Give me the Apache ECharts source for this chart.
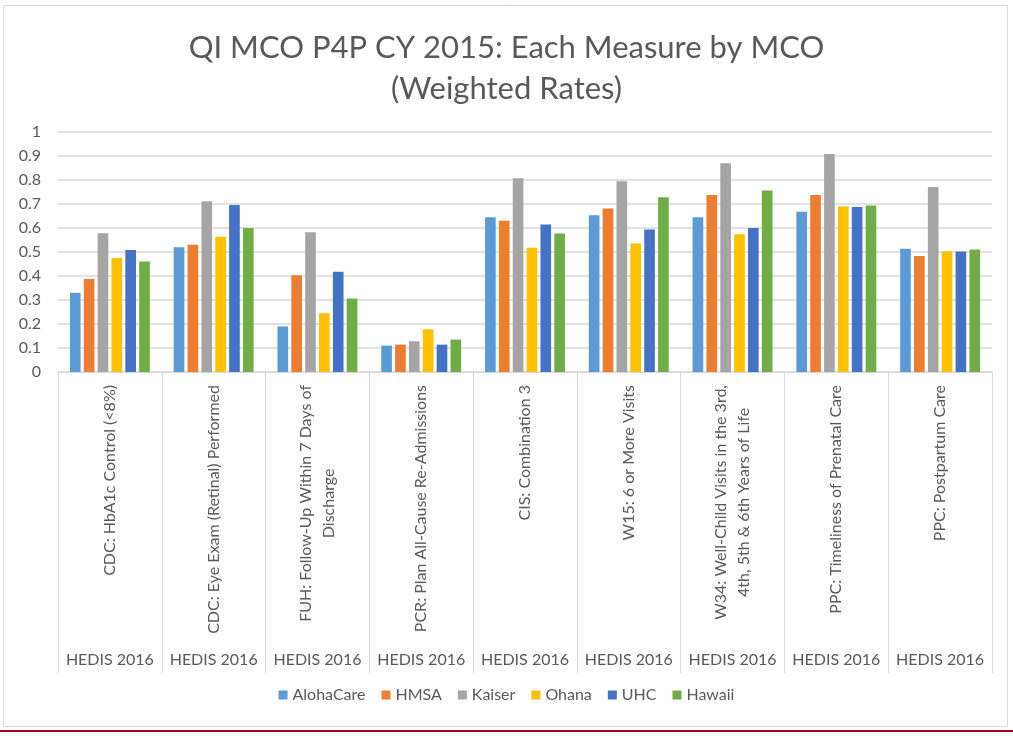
<!DOCTYPE html>
<html>
<head>
<meta charset="utf-8">
<script src="https://cdn.jsdelivr.net/npm/echarts@6/dist/echarts.min.js"></script>
<style>
  html, body { margin: 0; padding: 0; background: #fff; }
  #chart { width: 1013px; height: 740px; }
</style>
</head>
<body>
<div id="chart"></div>
<script>
// measures (wrapped the way the reference wraps them)
var measures = [
  'CDC: HbA1c Control (<8%)',
  'CDC: Eye Exam (Retinal) Performed',
  'FUH: Follow-Up Within 7 Days of\nDischarge',
  'PCR: Plan All-Cause Re-Admissions',
  'CIS: Combination 3',
  'W15: 6 or More Visits',
  'W34: Well-Child Visits in the 3rd,\n4th, 5th & 6th Years of Life',
  'PPC: Timeliness of Prenatal Care',
  'PPC: Postpartum Care'
]
var groups = ['HEDIS 2016', 'HEDIS 2016', 'HEDIS 2016', 'HEDIS 2016', 'HEDIS 2016',
  'HEDIS 2016', 'HEDIS 2016', 'HEDIS 2016', 'HEDIS 2016']

var mcoNames = ['AlohaCare', 'HMSA', 'Kaiser', 'Ohana', 'UHC', 'Hawaii']
var alohaCare = [0.33, 0.52, 0.19, 0.11, 0.645, 0.653, 0.645, 0.668, 0.514]
var hmsa = [0.387, 0.53, 0.403, 0.114, 0.63, 0.681, 0.737, 0.737, 0.483]
var kaiser = [0.578, 0.711, 0.582, 0.128, 0.807, 0.795, 0.87, 0.908, 0.771]
var ohana = [0.475, 0.564, 0.245, 0.178, 0.518, 0.535, 0.574, 0.69, 0.503]
var uhc = [0.508, 0.696, 0.418, 0.114, 0.615, 0.594, 0.6, 0.687, 0.502]
var hawaii = [0.46, 0.6, 0.306, 0.135, 0.577, 0.728, 0.756, 0.694, 0.51]

var colors = ['#5B9BD5', '#ED7D31', '#A5A5A5', '#FFC000', '#4472C4', '#70AD47']
var seriesData = [alohaCare, hmsa, kaiser, ohana, uhc, hawaii]

var textColor = '#595959'
var lineColor = '#d9d9d9'
var font = 'Lato'

var chart = echarts.init(document.getElementById('chart'))

chart.setOption({
  color: colors,
  animation: false,
  title: {
    text: 'QI MCO P4P CY 2015: Each Measure by MCO\n(Weighted Rates)',
    left: 'center',
    top: 22,
    textStyle: {
      fontFamily: font,
      fontSize: 31,
      lineHeight: 41,
      fontWeight: 'normal',
      color: textColor
    }
  },
  legend: {
    data: mcoNames,
    bottom: 32,
    left: 'center',
    itemWidth: 9,
    itemHeight: 9,
    itemGap: 16,
    icon: 'rect',
    textStyle: { fontFamily: font, fontSize: 16, color: textColor }
  },
  grid: {
    left: 58,
    right: 21,
    top: 132,
    bottom: 368,
    containLabel: false
  },
  xAxis: [
    {
      type: 'category',
      data: measures,
      axisLine: { lineStyle: { color: lineColor, width: 1 } },
      axisTick: { show: true, length: 301, interval: 0, lineStyle: { color: lineColor } },
      axisLabel: {
        interval: 0,
        rotate: 90,
        margin: 13,
        lineHeight: 23,
        formatter: function (v) {
          return v.split('\n').map(function (s) { return '{c|' + s + '}' }).join('\n')
        },
        rich: {
          c: { align: 'center', fontFamily: font, fontSize: 16, lineHeight: 23, color: textColor }
        }
      }
    },
    {
      type: 'category',
      data: groups,
      position: 'bottom',
      offset: 280,
      axisLine: { show: false },
      axisTick: { show: false },
      axisLabel: {
        interval: 0,
        margin: 0,
        fontFamily: font,
        fontSize: 16,
        color: textColor
      }
    }
  ],
  yAxis: {
    type: 'value',
    min: 0,
    max: 1,
    interval: 0.1,
    axisLine: { show: false },
    axisTick: { show: false },
    splitLine: { lineStyle: { color: lineColor, width: 1.5 } },
    axisLabel: { margin: 17, fontFamily: font, fontSize: 16, color: textColor }
  },
  series: mcoNames.map(function (name, i) {
    return {
      name: name,
      type: 'bar',
      data: seriesData[i],
      barGap: '30%',
      barCategoryGap: '23%',
      itemStyle: { color: colors[i] }
    }
  }),
  graphic: [
    {
      type: 'rect',
      shape: { x: 3.5, y: 5.5, width: 1004, height: 721 },
      style: { fill: null, stroke: lineColor, lineWidth: 1 },
      silent: true
    },
    {
      type: 'rect',
      shape: { x: 0, y: 730, width: 1013, height: 2 },
      style: { fill: '#a50021' },
      silent: true
    }
  ]
})
</script>
</body>
</html>
